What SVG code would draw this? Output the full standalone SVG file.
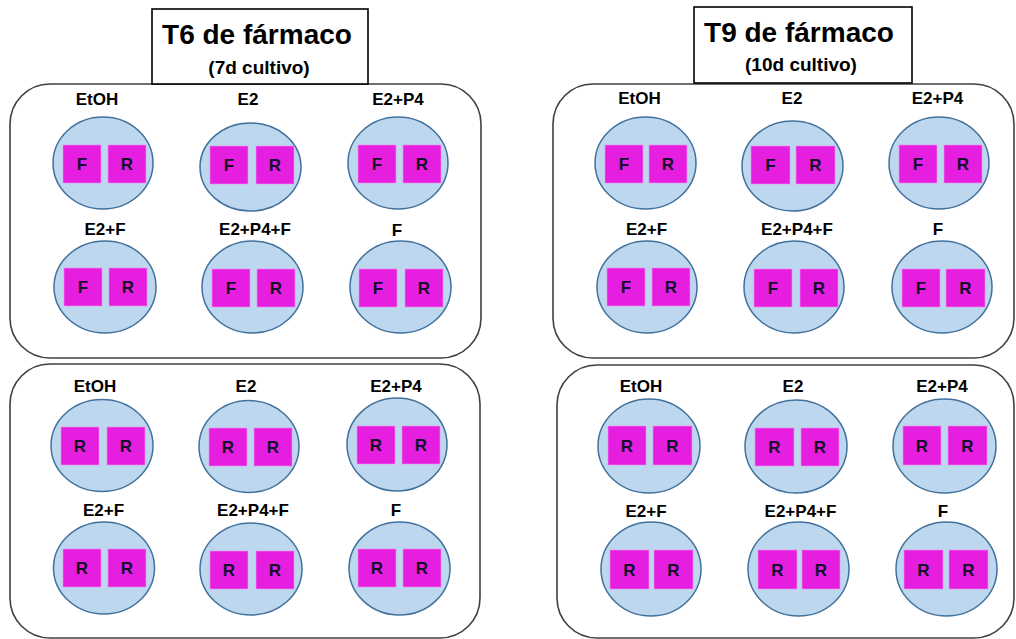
<svg xmlns="http://www.w3.org/2000/svg" width="1016" height="639" viewBox="0 0 1016 639">
  <style>
    .panel { fill: #ffffff; stroke: #404040; stroke-width: 1.6; }
    .title-box { fill: #ffffff; stroke: #000000; stroke-width: 1.6; }
    .title { font-family: "Liberation Sans", Arial, sans-serif; font-weight: bold; font-size: 28px; fill: #000000; text-anchor: middle; }
    .subtitle { font-family: "Liberation Sans", Arial, sans-serif; font-weight: bold; font-size: 19px; fill: #000000; text-anchor: middle; }
    .well { fill: #bdd7ee; stroke: #41719c; stroke-width: 1.5; }
    .chip { fill: #e61ee0; stroke: #f08cf0; stroke-width: 0.6; }
    .label { font-family: "Liberation Sans", Arial, sans-serif; font-weight: bold; font-size: 17px; fill: #000000; text-anchor: middle; }
    .mark { font-family: "Liberation Sans", Arial, sans-serif; font-weight: bold; font-size: 17px; fill: #14102a; text-anchor: middle; }
  </style>

  <!-- Plate panels -->
  <rect class="panel" x="10" y="84" width="471" height="274" rx="40" ry="40"/>
  <rect class="panel" x="553" y="84" width="461" height="274" rx="40" ry="40"/>
  <rect class="panel" x="10" y="364" width="470" height="274" rx="40" ry="40"/>
  <rect class="panel" x="557" y="365" width="457" height="273" rx="40" ry="40"/>

  <!-- Time-point headers -->
  <g id="header-t6">
    <rect class="title-box" x="152" y="9" width="216" height="75"/>
    <text class="title" x="257" y="44">T6 de fármaco</text>
    <text class="subtitle" x="259" y="74">(7d cultivo)</text>
  </g>
  <g id="header-t9">
    <rect class="title-box" x="694" y="7" width="218" height="76"/>
    <text class="title" x="799" y="42">T9 de fármaco</text>
    <text class="subtitle" x="801" y="71">(10d cultivo)</text>
  </g>

  <!-- T6, upper plate -->
  <g id="t6-top-etoh">
    <text class="label" x="97" y="105">EtOH</text>
    <ellipse class="well" cx="103" cy="163" rx="50" ry="46"/>
    <rect class="chip" x="63" y="145" width="38" height="38"/><text class="mark" x="82" y="170">F</text>
    <rect class="chip" x="108" y="145" width="38" height="38"/><text class="mark" x="127" y="170">R</text>
  </g>
  <g id="t6-top-e2">
    <text class="label" x="248" y="105">E2</text>
    <ellipse class="well" cx="250.5" cy="167" rx="50.5" ry="44"/>
    <rect class="chip" x="210" y="146" width="38" height="38"/><text class="mark" x="229" y="171">F</text>
    <rect class="chip" x="256" y="146" width="38" height="38"/><text class="mark" x="275" y="171">R</text>
  </g>
  <g id="t6-top-e2p4">
    <text class="label" x="398" y="105">E2+P4</text>
    <ellipse class="well" cx="398" cy="163" rx="50" ry="46"/>
    <rect class="chip" x="358" y="145" width="38" height="38"/><text class="mark" x="377" y="170">F</text>
    <rect class="chip" x="403" y="145" width="38" height="38"/><text class="mark" x="422" y="170">R</text>
  </g>
  <g id="t6-top-e2f">
    <text class="label" x="105" y="235">E2+F</text>
    <ellipse class="well" cx="105" cy="287" rx="51" ry="46"/>
    <rect class="chip" x="64" y="268" width="38" height="38"/><text class="mark" x="83" y="293">F</text>
    <rect class="chip" x="109" y="268" width="38" height="38"/><text class="mark" x="128" y="293">R</text>
  </g>
  <g id="t6-top-e2p4f">
    <text class="label" x="255" y="235">E2+P4+F</text>
    <ellipse class="well" cx="252.5" cy="287" rx="50.5" ry="46"/>
    <rect class="chip" x="212" y="269" width="38" height="38"/><text class="mark" x="231" y="294">F</text>
    <rect class="chip" x="257" y="269" width="38" height="38"/><text class="mark" x="276" y="294">R</text>
  </g>
  <g id="t6-top-f">
    <text class="label" x="397" y="236">F</text>
    <ellipse class="well" cx="400.5" cy="287" rx="50.5" ry="46"/>
    <rect class="chip" x="359" y="269" width="38" height="38"/><text class="mark" x="378" y="294">F</text>
    <rect class="chip" x="405" y="269" width="38" height="38"/><text class="mark" x="424" y="294">R</text>
  </g>

  <!-- T9, upper plate -->
  <g id="t9-top-etoh">
    <text class="label" x="639.5" y="104">EtOH</text>
    <ellipse class="well" cx="645.5" cy="163" rx="50.5" ry="46"/>
    <rect class="chip" x="605" y="145" width="38" height="38"/><text class="mark" x="624" y="170">F</text>
    <rect class="chip" x="649" y="145" width="38" height="38"/><text class="mark" x="668" y="170">R</text>
  </g>
  <g id="t9-top-e2">
    <text class="label" x="792" y="104">E2</text>
    <ellipse class="well" cx="792.5" cy="166" rx="50.5" ry="45"/>
    <rect class="chip" x="751" y="146" width="39" height="38"/><text class="mark" x="770.5" y="171">F</text>
    <rect class="chip" x="796" y="146" width="39" height="38"/><text class="mark" x="815.5" y="171">R</text>
  </g>
  <g id="t9-top-e2p4">
    <text class="label" x="937.5" y="104">E2+P4</text>
    <ellipse class="well" cx="939" cy="163" rx="50" ry="46"/>
    <rect class="chip" x="899" y="145" width="38" height="38"/><text class="mark" x="918" y="170">F</text>
    <rect class="chip" x="944" y="145" width="38" height="38"/><text class="mark" x="963" y="170">R</text>
  </g>
  <g id="t9-top-e2f">
    <text class="label" x="646.5" y="235">E2+F</text>
    <ellipse class="well" cx="647" cy="287" rx="50" ry="46"/>
    <rect class="chip" x="607" y="268" width="38" height="38"/><text class="mark" x="626" y="293">F</text>
    <rect class="chip" x="652" y="268" width="38" height="38"/><text class="mark" x="671" y="293">R</text>
  </g>
  <g id="t9-top-e2p4f">
    <text class="label" x="797" y="235">E2+P4+F</text>
    <ellipse class="well" cx="794" cy="287" rx="50" ry="46"/>
    <rect class="chip" x="754" y="269" width="38" height="38"/><text class="mark" x="773" y="294">F</text>
    <rect class="chip" x="800" y="269" width="38" height="38"/><text class="mark" x="819" y="294">R</text>
  </g>
  <g id="t9-top-f">
    <text class="label" x="938" y="235">F</text>
    <ellipse class="well" cx="942" cy="287" rx="50" ry="46"/>
    <rect class="chip" x="902" y="269" width="38" height="38"/><text class="mark" x="921" y="294">F</text>
    <rect class="chip" x="946" y="269" width="39" height="38"/><text class="mark" x="965.5" y="294">R</text>
  </g>

  <!-- T6, lower plate -->
  <g id="t6-bottom-etoh">
    <text class="label" x="95" y="392">EtOH</text>
    <ellipse class="well" cx="102" cy="445.5" rx="51" ry="46"/>
    <rect class="chip" x="61" y="427" width="38" height="38"/><text class="mark" x="80" y="452">R</text>
    <rect class="chip" x="107" y="427" width="38" height="38"/><text class="mark" x="126" y="452">R</text>
  </g>
  <g id="t6-bottom-e2">
    <text class="label" x="246" y="392">E2</text>
    <ellipse class="well" cx="249" cy="446.5" rx="50" ry="46"/>
    <rect class="chip" x="209" y="428" width="38" height="38"/><text class="mark" x="228" y="453">R</text>
    <rect class="chip" x="254" y="428" width="38" height="38"/><text class="mark" x="273" y="453">R</text>
  </g>
  <g id="t6-bottom-e2p4">
    <text class="label" x="396" y="392">E2+P4</text>
    <ellipse class="well" cx="397" cy="444.5" rx="50" ry="46.5"/>
    <rect class="chip" x="357" y="426" width="38" height="38"/><text class="mark" x="376" y="451">R</text>
    <rect class="chip" x="402" y="426" width="38" height="38"/><text class="mark" x="421" y="451">R</text>
  </g>
  <g id="t6-bottom-e2f">
    <text class="label" x="103.5" y="516">E2+F</text>
    <ellipse class="well" cx="104" cy="568" rx="50.5" ry="46"/>
    <rect class="chip" x="63" y="549" width="38" height="38"/><text class="mark" x="82" y="574">R</text>
    <rect class="chip" x="108" y="549" width="38" height="38"/><text class="mark" x="127" y="574">R</text>
  </g>
  <g id="t6-bottom-e2p4f">
    <text class="label" x="253" y="516">E2+P4+F</text>
    <ellipse class="well" cx="251" cy="569" rx="51" ry="46"/>
    <rect class="chip" x="210" y="551" width="38" height="38"/><text class="mark" x="229" y="576">R</text>
    <rect class="chip" x="256" y="551" width="38" height="38"/><text class="mark" x="275" y="576">R</text>
  </g>
  <g id="t6-bottom-f">
    <text class="label" x="396" y="516">F</text>
    <ellipse class="well" cx="399.5" cy="568.5" rx="50.5" ry="46.5"/>
    <rect class="chip" x="358" y="549" width="38" height="38"/><text class="mark" x="377" y="574">R</text>
    <rect class="chip" x="403" y="549" width="38" height="38"/><text class="mark" x="422" y="574">R</text>
  </g>

  <!-- T9, lower plate -->
  <g id="t9-bottom-etoh">
    <text class="label" x="641" y="392">EtOH</text>
    <ellipse class="well" cx="649" cy="446" rx="51" ry="47"/>
    <rect class="chip" x="608" y="426" width="38" height="39"/><text class="mark" x="627" y="452">R</text>
    <rect class="chip" x="653" y="426" width="39" height="39"/><text class="mark" x="672.5" y="452">R</text>
  </g>
  <g id="t9-bottom-e2">
    <text class="label" x="793" y="392">E2</text>
    <ellipse class="well" cx="796" cy="446.5" rx="51" ry="46.5"/>
    <rect class="chip" x="755" y="428" width="39" height="38"/><text class="mark" x="774.5" y="453">R</text>
    <rect class="chip" x="801" y="428" width="38" height="38"/><text class="mark" x="820" y="453">R</text>
  </g>
  <g id="t9-bottom-e2p4">
    <text class="label" x="942" y="392">E2+P4</text>
    <ellipse class="well" cx="944.5" cy="446" rx="51.5" ry="47"/>
    <rect class="chip" x="903" y="426" width="38" height="39"/><text class="mark" x="922" y="452">R</text>
    <rect class="chip" x="948" y="426" width="39" height="39"/><text class="mark" x="967.5" y="452">R</text>
  </g>
  <g id="t9-bottom-e2f">
    <text class="label" x="646" y="517">E2+F</text>
    <ellipse class="well" cx="651" cy="569" rx="50" ry="47"/>
    <rect class="chip" x="610" y="550" width="39" height="39"/><text class="mark" x="629.5" y="576">R</text>
    <rect class="chip" x="654" y="550" width="39" height="39"/><text class="mark" x="673.5" y="576">R</text>
  </g>
  <g id="t9-bottom-e2p4f">
    <text class="label" x="800.5" y="517">E2+P4+F</text>
    <ellipse class="well" cx="798.5" cy="569" rx="50.5" ry="47"/>
    <rect class="chip" x="758" y="550" width="39" height="39"/><text class="mark" x="777.5" y="576">R</text>
    <rect class="chip" x="802" y="550" width="38" height="39"/><text class="mark" x="821" y="576">R</text>
  </g>
  <g id="t9-bottom-f">
    <text class="label" x="943" y="517">F</text>
    <ellipse class="well" cx="946.5" cy="569" rx="50.5" ry="47"/>
    <rect class="chip" x="904" y="550" width="39" height="39"/><text class="mark" x="923.5" y="576">R</text>
    <rect class="chip" x="949" y="550" width="39" height="39"/><text class="mark" x="968.5" y="576">R</text>
  </g>
</svg>
